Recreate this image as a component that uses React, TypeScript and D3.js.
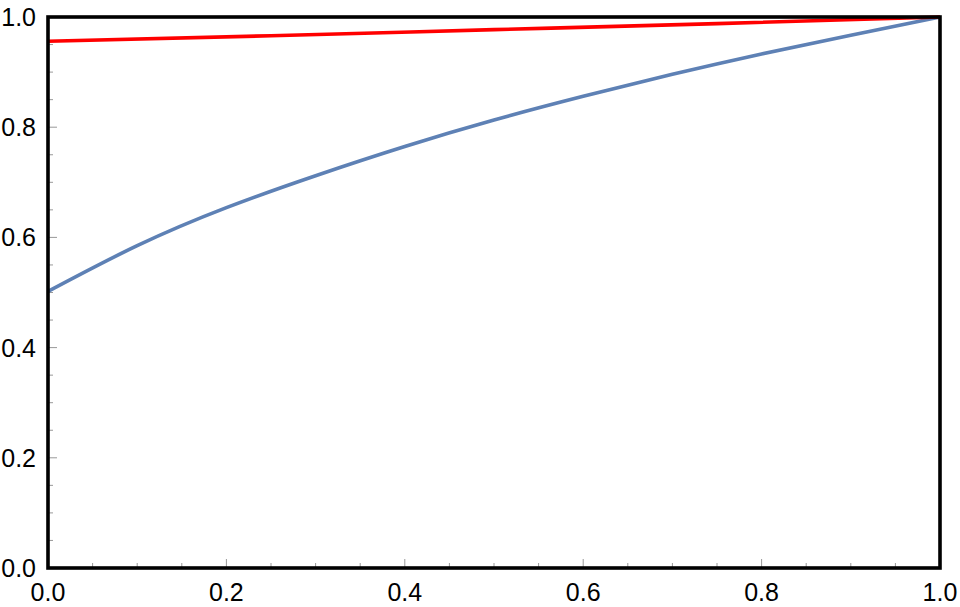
import React from "react";
import * as d3 from "d3";

const blueX = [0, 0.1, 0.2, 0.3, 0.4, 0.5, 0.6, 0.7, 0.8, 0.9, 1.0];
const blueY = [0.502, 0.585, 0.654, 0.712, 0.765, 0.813, 0.856, 0.896, 0.933, 0.967, 1.0];
const redX = [0, 0.25, 0.5, 0.75, 1.0];
const redY = [0.956, 0.966, 0.977, 0.988, 1.0];
const xTickLabels = [0, 0.2, 0.4, 0.6, 0.8, 1.0];
const yTickLabels = [0, 0.2, 0.4, 0.6, 0.8, 1.0];

const W = 960;
const H = 607;
const M = { left: 48, right: 940, top: 17, bottom: 568 };

export default function App() {
  const x = d3.scaleLinear().domain([0, 1]).range([M.left, M.right]);
  const y = d3.scaleLinear().domain([0, 1]).range([M.bottom, M.top]);
  const minor = d3.range(0, 1.0001, 0.05);
  const isMajor = (v: number) => Math.abs(v * 5 - Math.round(v * 5)) < 1e-6;

  const line = d3
    .line<[number, number]>()
    .x((d) => x(d[0]))
    .y((d) => y(d[1]))
    .curve(d3.curveNatural);

  const blue = line(blueX.map((v, i) => [v, blueY[i]]));
  const red = line(redX.map((v, i) => [v, redY[i]]));
  const font = "'Liberation Sans', Arial, sans-serif";

  return (
    <svg
      width={W}
      height={H}
      style={{ position: "absolute", left: 0, top: 0, background: "#fff" }}
    >
      <rect width={W} height={H} fill="#fff" />
      {minor.map((v, i) => (
        <g key={"t" + i} stroke="#999" strokeWidth={1}>
          <line x1={x(v)} x2={x(v)} y1={M.bottom} y2={M.bottom - (isMajor(v) ? 9 : 5)} />
          <line x1={M.left} x2={M.left + (isMajor(v) ? 9 : 5)} y1={y(v)} y2={y(v)} />
        </g>
      ))}
      <path d={blue || ""} fill="none" stroke="#5E81B5" strokeWidth={3.6} />
      <path d={red || ""} fill="none" stroke="#FF0000" strokeWidth={3.6} />
      <rect
        x={M.left}
        y={M.top}
        width={M.right - M.left}
        height={M.bottom - M.top}
        fill="none"
        stroke="#000"
        strokeWidth={3.6}
      />
      {xTickLabels.map((v, i) => (
        <text
          key={"xl" + i}
          x={x(v)}
          y={601}
          textAnchor="middle"
          fontFamily={font}
          fontSize={25}
          fill="#000"
        >
          {v.toFixed(1)}
        </text>
      ))}
      {yTickLabels.map((v, i) => (
        <text
          key={"yl" + i}
          x={36}
          y={y(v)}
          dy="0.36em"
          textAnchor="end"
          fontFamily={font}
          fontSize={25}
          fill="#000"
        >
          {v.toFixed(1)}
        </text>
      ))}
    </svg>
  );
}
